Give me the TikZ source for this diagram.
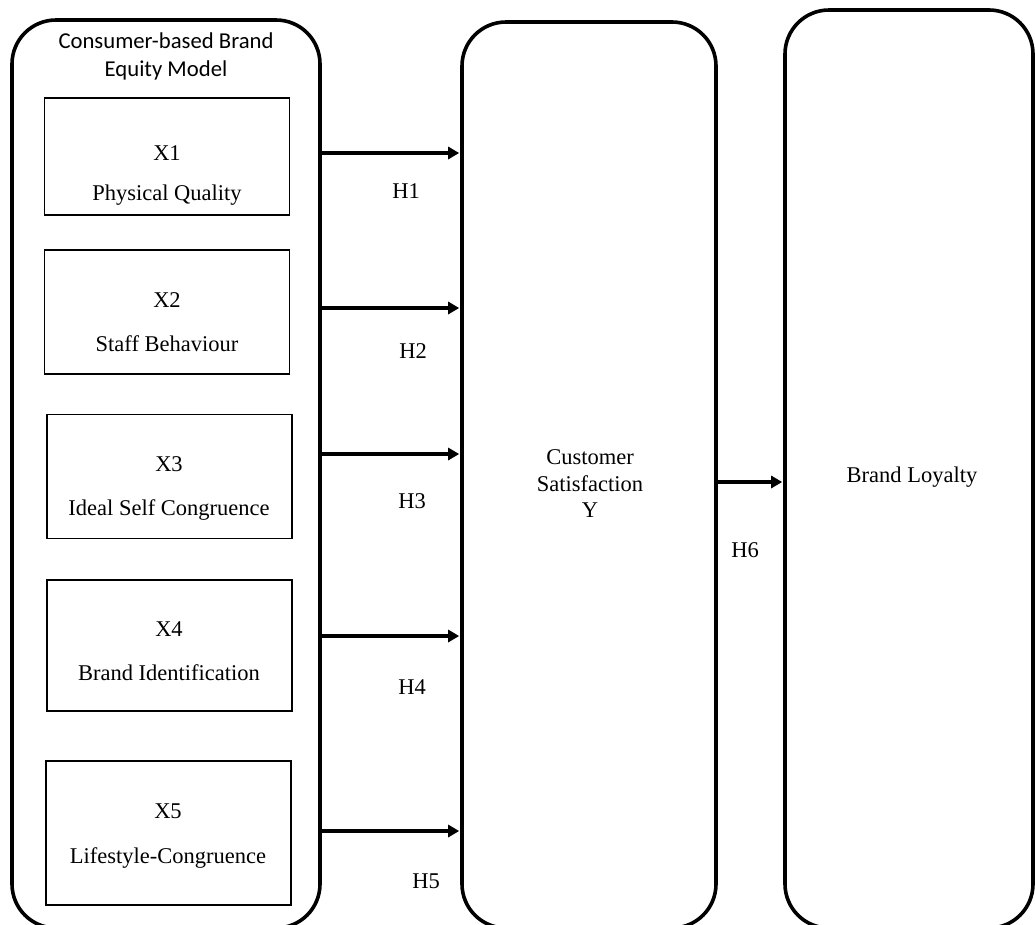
\documentclass[tikz,border=0pt]{standalone}
\usepackage{fontspec}
\setmainfont{Liberation Serif}
\newfontfamily\titlefont{Carlito}
\usetikzlibrary{arrows.meta}
\begin{document}
\begin{tikzpicture}[x=1pt,y=-1pt,
  bigbox/.style={draw, line width=3.6pt, rounded corners=44pt, inner sep=0pt},
  varbox/.style={draw, line width=1.2pt, inner sep=0pt, minimum width=245pt},
  txt/.style={font=\fontsize{22.5}{26}\selectfont, anchor=base, inner sep=0pt},
  ttl/.style={font=\titlefont\fontsize{22.7}{29}\selectfont, anchor=base, inner sep=0pt},
  arr/.style={line width=3.6pt, -{Triangle[length=11pt,width=12pt]}, shorten >=1pt}]
\useasboundingbox (0,0) rectangle (1035,924);
\clip (0,0) rectangle (1035,924);
% big containers
\node[bigbox, minimum width=308pt, minimum height=908pt] (lb) at (166,474) {};
\node[bigbox, minimum width=254pt, minimum height=906pt] (mb) at (589,475) {};
\node[bigbox, minimum width=248pt, minimum height=918pt] (rb) at (909,469) {};
% title
\node[ttl] (title1) at (166,48) {Consumer-based Brand};
\node[ttl] (title2) at (166,76) {Equity Model};
% variable boxes
\node[varbox, minimum height=117pt] (b1) at (167,156.5) {};
\node[varbox, minimum height=124pt] (b2) at (167,312) {};
\node[varbox, minimum height=124pt] (b3) at (169.5,476.5) {};
\node[varbox, minimum height=131pt] (b4) at (169.5,645.5) {};
\node[varbox, minimum height=144pt] (b5) at (168.5,833) {};
% texts
\node[txt] (x1) at (167,160) {X1};
\node[txt] (t1) at (167,200) {Physical Quality};
\node[txt] (x2) at (167,307) {X2};
\node[txt] (t2) at (167,351) {Staff Behaviour};
\node[txt] (x3) at (169,471) {X3};
\node[txt] (t3) at (169,515) {Ideal Self Congruence};
\node[txt] (x4) at (169,636) {X4};
\node[txt] (t4) at (169,680) {Brand Identification};
\node[txt] (x5) at (168,818) {X5};
\node[txt] (t5) at (168,863) {Lifestyle-Congruence};
\node[txt] (c1) at (590,464) {Customer};
\node[txt] (c2) at (590,491) {Satisfaction};
\node[txt] (c3) at (590,517) {Y};
\node[txt] (bl) at (912,482) {Brand Loyalty};
% hypothesis labels
\node[txt] (h1) at (406,198) {H1};
\node[txt] (h2) at (413,358) {H2};
\node[txt] (h3) at (412,508) {H3};
\node[txt] (h4) at (412,694) {H4};
\node[txt] (h5) at (426,888) {H5};
\node[txt] (h6) at (745,557) {H6};
% arrows
\draw[arr] (lb.east |- 0,153) -- (mb.west |- 0,153);
\draw[arr] (lb.east |- 0,308) -- (mb.west |- 0,308);
\draw[arr] (lb.east |- 0,454) -- (mb.west |- 0,454);
\draw[arr] (lb.east |- 0,636) -- (mb.west |- 0,636);
\draw[arr] (lb.east |- 0,831) -- (mb.west |- 0,831);
\draw[arr] (mb.east |- 0,482) -- (rb.west |- 0,482);
\end{tikzpicture}
\end{document}
